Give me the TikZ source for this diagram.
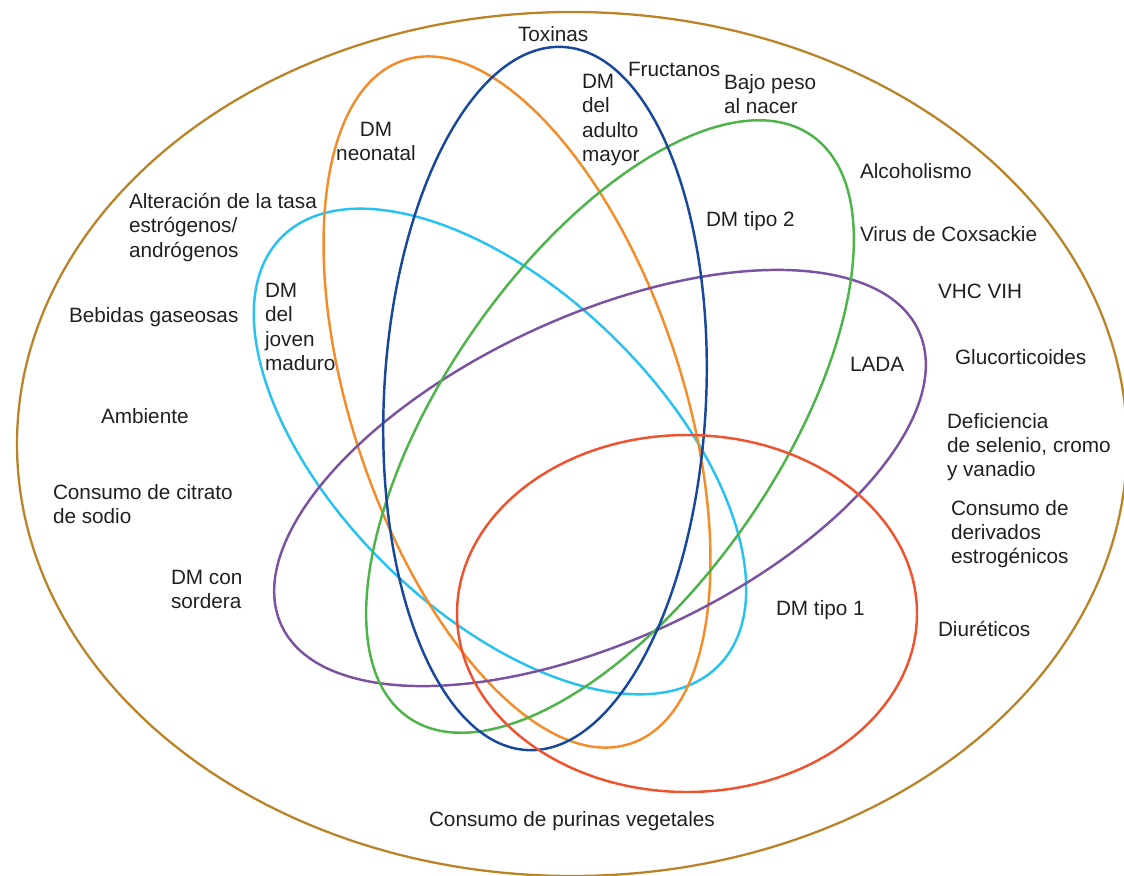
\documentclass[tikz,border=0pt]{standalone}
\usepackage{fontspec}
\setmainfont{Liberation Sans}
\usepackage{xcolor}
\usepackage{tikz}

\definecolor{ringbrown}{RGB}{186,131,40}
\definecolor{ringorange}{RGB}{243,140,42}
\definecolor{ringblue}{RGB}{24,72,155}
\definecolor{ringgreen}{RGB}{76,180,72}
\definecolor{ringcyan}{RGB}{40,194,240}
\definecolor{ringpurple}{RGB}{122,82,162}
\definecolor{ringred}{RGB}{238,82,46}
\definecolor{textgray}{RGB}{35,31,32}

\tikzset{
    ring/.style={line width=1.4pt},
    lbl/.style={text=textgray, inner sep=0pt, outer sep=0pt,
    font=\fontsize{11.8pt}{13.9pt}\selectfont},
}

\begin{document}
\begin{tikzpicture}[x=0.02cm, y=-0.02cm]
    \useasboundingbox (0,0) rectangle (1124,875);
    % outer ring
    \draw[ringbrown, line width=1.3pt] (572,444) ellipse (555 and 432);
    % the six types
    \draw[ring, ringcyan, shift={(500,451.5)}, rotate=45.7] (0,0) ellipse (161 and 306);
    \draw[ring, ringorange, shift={(517,402)}, rotate=18.4] (0,0) ellipse (165 and 360);
    \draw[ring, ringpurple, shift={(600,478)}, rotate=-65.2] (0,0) ellipse (162 and 351);
    \draw[ring, ringgreen, shift={(610,426.5)}, rotate=-34.7] (0,0) ellipse (167 and 354);
    \draw[ring, ringblue, shift={(545,398.5)}, rotate=-2.9] (0,0) ellipse (161 and 352);
    \draw[ring, ringred] (687,613.5) ellipse (230 and 178.5);

    \node[lbl, anchor=base west] (toxinas) at (518,42) {Toxinas};
    \node[lbl, anchor=base west] (fructanos) at (628,76) {Fructanos};
    \node[lbl, anchor=north west, align=left] (adulto) at (582,74) {DM\\del\\adulto\\mayor};
    \node[lbl, anchor=north west, align=left] (bajopeso) at (724,74) {Bajo peso\\al nacer};
    \node[lbl, anchor=north, align=center] (neonatal) at (376,122) {DM\\neonatal};
    \node[lbl, anchor=north west, align=left] (tasa) at (129,193) {Alteración de la tasa\\estrógenos/\\andrógenos};
    \node[lbl, anchor=base west] (alcohol) at (860,178) {Alcoholismo};
    \node[lbl, anchor=base west] (tipo2) at (706,226) {DM tipo 2};
    \node[lbl, anchor=base west] (coxsackie) at (860,241) {Virus de Coxsackie};
    \node[lbl, anchor=base west] (vhc) at (938,298) {VHC VIH};
    \node[lbl, anchor=base west] (bebidas) at (69,322) {Bebidas gaseosas};
    \node[lbl, anchor=north west, align=left] (joven) at (265,283) {DM\\del\\joven\\maduro};
    \node[lbl, anchor=base west] (gluco) at (955,364) {Glucorticoides};
    \node[lbl, anchor=base west] (lada) at (850,371) {LADA};
    \node[lbl, anchor=base west] (ambiente) at (101,423) {Ambiente};
    \node[lbl, anchor=north west, align=left] (selenio) at (947,413) {Deficiencia\\de selenio, cromo\\y vanadio};
    \node[lbl, anchor=north west, align=left] (citrato) at (53,484) {Consumo de citrato\\de sodio};
    \node[lbl, anchor=north west, align=left] (estrog) at (951,500) {Consumo de\\derivados\\estrogénicos};
    \node[lbl, anchor=north west, align=left] (sordera) at (171,570) {DM con\\sordera};
    \node[lbl, anchor=base west] (tipo1) at (776,615) {DM tipo 1};
    \node[lbl, anchor=base west] (diureticos) at (938,636) {Diuréticos};
    \node[lbl, anchor=base west] (purinas) at (429,826) {Consumo de purinas vegetales};
\end{tikzpicture}
\end{document}
